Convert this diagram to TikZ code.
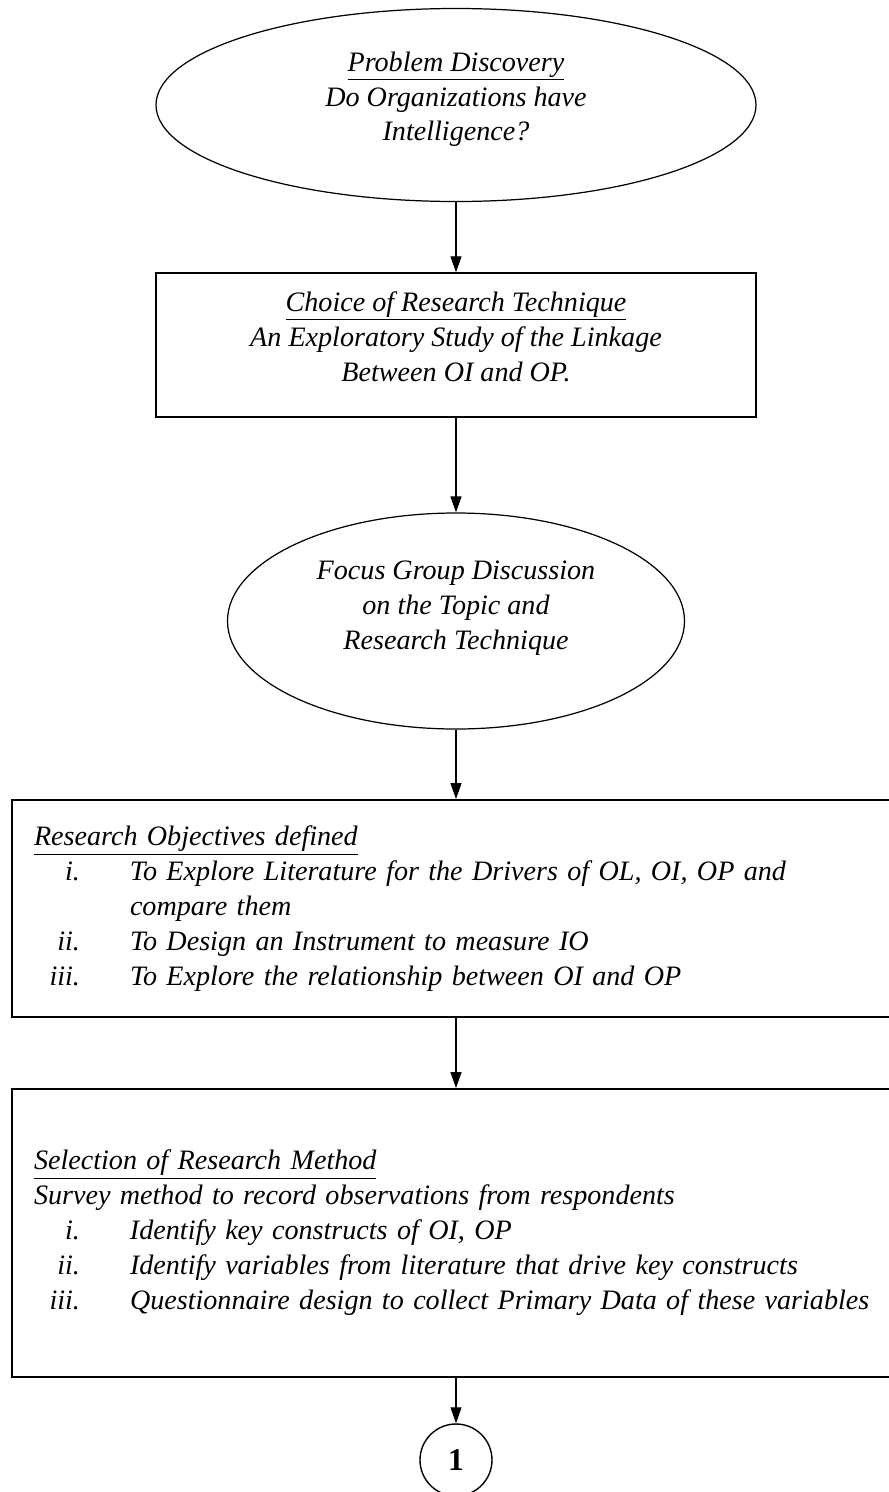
\documentclass[tikz,border=0pt]{standalone}
\usepackage{fontspec}
\setmainfont{Liberation Serif}
\usetikzlibrary{shapes.geometric,arrows.meta}

\tikzset{
  oval/.style={draw, ellipse, line width=0.7pt, inner sep=0pt, align=center, text depth=0.35cm},
  stage/.style={draw, rectangle, line width=0.8pt, inner sep=0pt, align=center, text depth=0.35cm},
  widebox/.style={draw, rectangle, line width=1.1pt, inner xsep=0.44cm, inner ysep=0pt,
    align=left, text width=16.88cm},
  connector/.style={draw, circle, line width=0.8pt, inner sep=0pt, minimum size=1.44cm,
    font=\fontsize{18}{20}\selectfont\bfseries},
  flow/.style={-{Triangle[length=0.32cm,width=0.22cm]}, line width=0.7pt},
}
\newcommand{\roitem}[2]{\makebox[0.92cm][r]{#1}\hspace{1.0cm}\mbox{#2}}

\begin{document}
\begin{tikzpicture}[font=\fontsize{16}{19.9}\selectfont\itshape]
  \useasboundingbox (0,0) rectangle (17.78,-29.84);
  \clip (0,0) rectangle (17.78,-29.84);

  \node[oval, minimum width=12cm, minimum height=3.86cm] (discovery) at (9.12,-2.10)
    {\underline{Problem Discovery}\\Do Organizations have\\Intelligence?};

  \node[stage, minimum width=12cm, minimum height=2.88cm] (technique) at (9.12,-6.90)
    {\underline{Choice of Research Technique}\\An Exploratory Study of the Linkage\\Between OI and OP.};

  \node[oval, minimum width=9.14cm, minimum height=4.32cm, text depth=0.65cm] (focus) at (9.12,-12.42)
    {Focus Group Discussion\\on the Topic and\\Research Technique};

  \node[widebox, minimum height=4.34cm] (objectives) at (9.12,-18.17)
    {\underline{Research Objectives defined}\\
     \roitem{i.}{To Explore Literature for the Drivers of OL, OI, OP and}\\
     \hspace*{1.92cm}compare them\\
     \roitem{ii.}{To Design an Instrument to measure IO}\\
     \roitem{iii.}{To Explore the relationship between OI and OP}};

  \node[widebox, minimum height=5.76cm] (method) at (9.12,-24.66)
    {\underline{Selection of Research Method}\\
     Survey method to record observations from respondents\\
     \roitem{i.}{Identify key constructs of OI, OP}\\
     \roitem{ii.}{Identify variables from literature that drive key constructs}\\
     \roitem{iii.}{Questionnaire design to collect Primary Data of these variables}};

  \node[connector] (next) at (9.12,-29.20) {1};

  % Flow
  \draw[flow] (discovery) -- (technique);
  \draw[flow] (technique) -- (focus);
  \draw[flow] (focus) -- (objectives);
  \draw[flow] (objectives) -- (method);
  \draw[flow] (method) -- (next);

\end{tikzpicture}
\end{document}
